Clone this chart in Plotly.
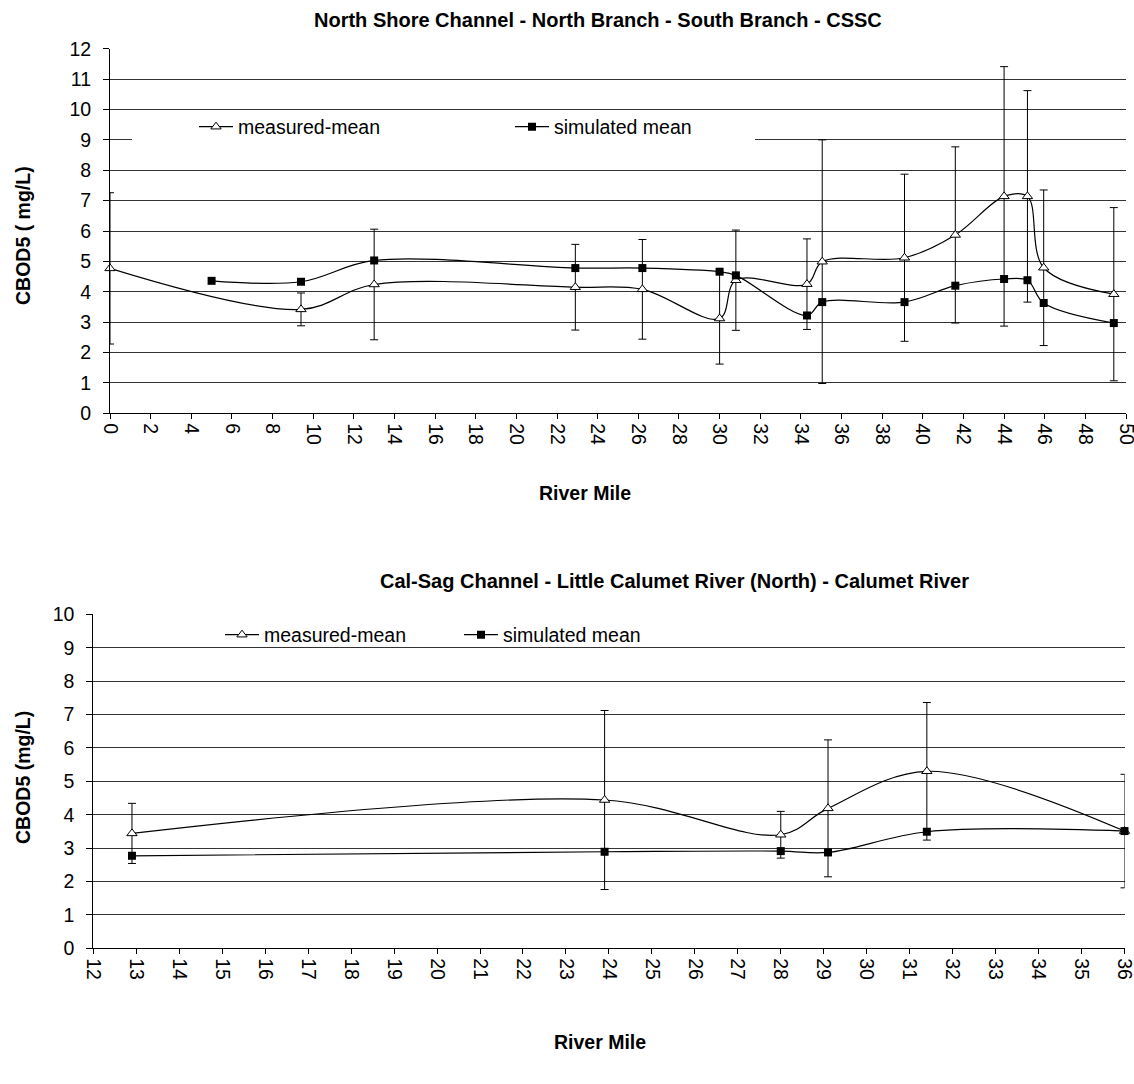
import plotly.graph_objects as go

# ---- North Shore Channel - North Branch - South Branch - CSSC ----
ns_meas_mile = [0.0, 9.4, 13.0, 22.9, 26.2, 30.0, 30.8, 34.3, 35.05, 39.1, 41.6, 44.0, 45.15, 45.95, 49.4]
ns_meas_mean = [4.77, 3.42, 4.24, 4.15, 4.08, 3.12, 4.38, 4.25, 4.99, 5.12, 5.87, 7.14, 7.14, 4.79, 3.92]
ns_meas_err = [2.49, 0.54, 1.82, 1.41, 1.64, 1.50, 1.65, 1.49, 4.01, 2.75, 2.90, 4.27, 3.48, 2.56, 2.85]
ns_sim_mile = [5.0, 9.4, 13.0, 22.9, 26.2, 30.0, 30.8, 34.3, 35.05, 39.1, 41.6, 44.0, 45.15, 45.95, 49.4]
ns_sim_mean = [4.36, 4.33, 5.03, 4.78, 4.78, 4.66, 4.54, 3.22, 3.66, 3.66, 4.20, 4.42, 4.38, 3.63, 2.97]

# ---- Cal-Sag Channel - Little Calumet River (North) - Calumet River ----
cs_meas_mile = [12.9, 23.9, 28.0, 29.1, 31.4, 36.0]
cs_meas_mean = [3.44, 4.44, 3.40, 4.19, 5.30, 3.51]
cs_meas_err = [0.90, 2.68, 0.70, 2.05, 2.06, 1.70]
cs_sim_mile = [12.9, 23.9, 28.0, 29.1, 31.4, 36.0]
cs_sim_mean = [2.77, 2.89, 2.91, 2.87, 3.49, 3.51]

W, H = 1134, 1084
FONT = "Arial, Liberation Sans, sans-serif"


def px(x):
    return x / W


def py(y):
    return 1 - y / H


fig = go.Figure()

meas_style = dict(
    mode="lines+markers", cliponaxis=False,
    line=dict(color="black", width=1.2, shape="spline", smoothing=1),
    marker=dict(symbol="triangle-up", size=9, color="white", line=dict(color="black", width=1)),
)
sim_style = dict(
    mode="lines+markers", cliponaxis=False,
    line=dict(color="black", width=1.2, shape="spline", smoothing=1),
    marker=dict(symbol="square", size=8, color="black", line=dict(color="black", width=0)),
)


def err(arr):
    return dict(type="data", array=arr, visible=True, color="black", thickness=1, width=4)


fig.add_trace(go.Scatter(x=ns_meas_mile, y=ns_meas_mean, error_y=err(ns_meas_err),
                         name="measured-mean", xaxis="x", yaxis="y", legend="legend", **meas_style))
fig.add_trace(go.Scatter(x=ns_sim_mile, y=ns_sim_mean,
                         name="simulated mean", xaxis="x", yaxis="y", legend="legend2", **sim_style))
fig.add_trace(go.Scatter(x=cs_meas_mile, y=cs_meas_mean, error_y=err(cs_meas_err),
                         name="measured-mean", xaxis="x2", yaxis="y2", legend="legend3", **meas_style))
fig.add_trace(go.Scatter(x=cs_sim_mile, y=cs_sim_mean,
                         name="simulated mean", xaxis="x2", yaxis="y2", legend="legend4", **sim_style))

tick_font = dict(family=FONT, size=19.5, color="black")
xcommon = dict(showline=True, linecolor="black", linewidth=1, ticks="outside", ticklen=5,
               tickcolor="black", tickangle=90, showgrid=False, zeroline=False, tickfont=tick_font,
               automargin=False, ticklabeloverflow="allow")
ycommon = dict(showline=True, linecolor="black", linewidth=1, ticks="outside", ticklen=6,
               tickcolor="black", showgrid=True, gridcolor="#333333", gridwidth=1, zeroline=False,
               dtick=1, tickfont=tick_font, ticklabelstandoff=8, automargin=False)

legend_common = dict(orientation="h", bgcolor="rgba(0,0,0,0)", borderwidth=0,
                     font=dict(family=FONT, size=19.5, color="black"),
                     xanchor="left", yanchor="middle", itemwidth=34)

fig.update_layout(
    template="none",
    width=W, height=H,
    margin=dict(l=0, r=0, t=0, b=0, pad=0),
    paper_bgcolor="white", plot_bgcolor="white",
    font=dict(family=FONT, color="black"),
    xaxis=dict(domain=[px(110), px(1126)], range=[0, 50], dtick=2, anchor="y", **xcommon),
    yaxis=dict(domain=[py(413.3), py(48.7)], range=[0, 12], anchor="x", **ycommon),
    xaxis2=dict(domain=[px(93.3), px(1124.5)], range=[12, 36], dtick=1, anchor="y2", **xcommon),
    yaxis2=dict(domain=[py(948.3), py(614.3)], range=[0, 10], anchor="x2", **ycommon),
    legend=dict(x=px(194), y=py(127), **legend_common),
    legend2=dict(x=px(510), y=py(127), **legend_common),
    legend3=dict(x=px(220), y=py(635), **legend_common),
    legend4=dict(x=px(459), y=py(635), **legend_common),
    showlegend=True,
)

# white legend area of the upper chart, drawn over the gridlines
fig.add_shape(type="rect", xref="paper", yref="paper",
              x0=px(132), x1=px(755), y0=py(150), y1=py(113),
              fillcolor="white", line=dict(width=0), layer="above")

title_font = dict(family=FONT, size=20, color="black")
label_font = dict(family=FONT, size=19.5, color="black")
annotations = [
    dict(text="<b>North Shore Channel - North Branch - South Branch - CSSC</b>",
         x=px(598), y=py(20), font=title_font),
    dict(text="<b>Cal-Sag Channel - Little Calumet River (North) - Calumet River</b>",
         x=px(674), y=py(581), font=title_font),
    dict(text="<b>River Mile</b>", x=px(585), y=py(493), font=label_font),
    dict(text="<b>River Mile</b>", x=px(600), y=py(1042), font=label_font),
    dict(text="<b>CBOD5 ( mg/L)</b>", x=px(23), y=py(236), textangle=-90, font=label_font),
    dict(text="<b>CBOD5 (mg/L)</b>", x=px(23), y=py(778), textangle=-90, font=label_font),
]
for a in annotations:
    fig.add_annotation(xref="paper", yref="paper", showarrow=False,
                       xanchor="center", yanchor="middle", **a)

fig.write_html("out.html")
